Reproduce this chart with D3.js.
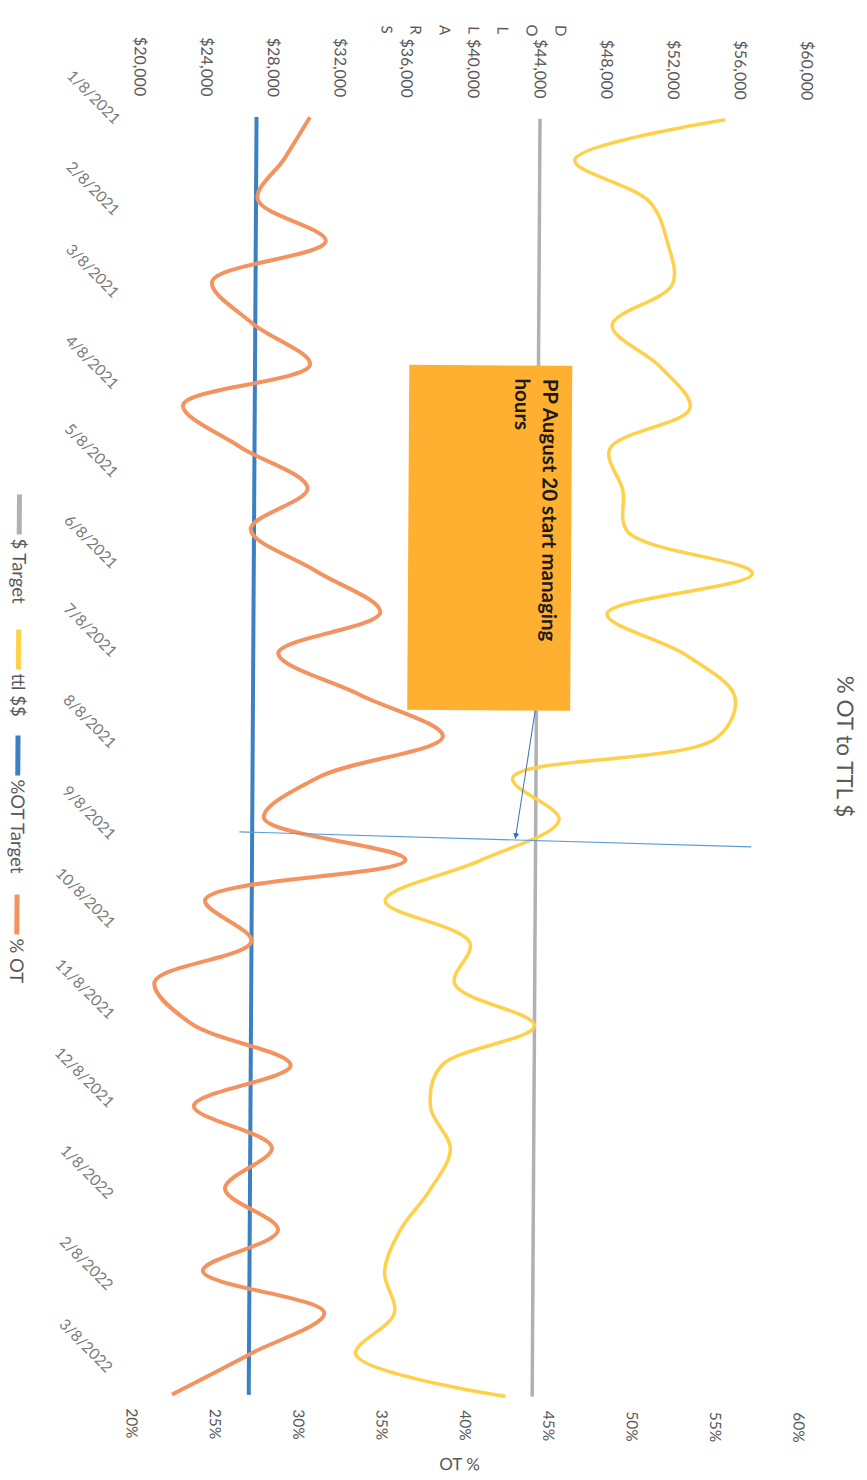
<!DOCTYPE html>
<html><head><meta charset="utf-8">
<script src="https://cdn.jsdelivr.net/npm/d3@7"></script>
<style>body{margin:0;background:#fff}svg{display:block}</style>
</head><body>
<svg id="c" width="867" height="1480"></svg>
<script>
// ---- data ----
const payDates = ["2021-01-08","2021-01-22","2021-02-05","2021-02-19","2021-03-05","2021-03-19","2021-04-02","2021-04-16",
  "2021-04-30","2021-05-14","2021-05-28","2021-06-11","2021-06-25","2021-07-09","2021-07-23","2021-08-06",
  "2021-08-20","2021-09-03","2021-09-17","2021-10-01","2021-10-15","2021-10-29","2021-11-12","2021-11-26",
  "2021-12-10","2021-12-24","2022-01-07","2022-01-21","2022-02-04","2022-02-18","2022-03-04","2022-03-18"];
const ttlDollars = [55100,46100,50600,51700,52000,48400,51300,53100,48300,49100,49400,56900,48200,53000,55900,54800,
  42600,45400,40700,35000,40100,39200,44000,38400,37800,39000,37800,36000,35100,35700,33400,42400];
const otPercent = [30.2,28.7,27.1,31.2,24.4,26.8,30.3,22.7,26.1,30.2,26.8,30.7,34.6,28.5,33.4,38.4,
  31.0,27.7,36.2,24.2,27.0,21.2,23.4,29.4,23.6,28.3,25.5,28.7,24.2,31.5,27.1,22.4];
const dollarTarget = 44000;
const otTarget = 27;
const dollarTicks = [20000,24000,28000,32000,36000,40000,44000,48000,52000,56000,60000];
const percentTicks = [20,25,30,35,40,45,50,55,60];
const dateTicks = ["2021-01-08","2021-02-08","2021-03-08","2021-04-08","2021-05-08","2021-06-08","2021-07-08",
  "2021-08-08","2021-09-08","2021-10-08","2021-11-08","2021-12-08","2022-01-08","2022-02-08","2022-03-08"];
const legendNames = ["$ Target","ttl $$","%OT Target","% OT"];
const titleText = "% OT to TTL $";
const leftTitle = "DOLLARS";
const rightTitle = "OT %";
const noteText = ["PP August 20 start managing","hours"];

// ---- colours ----
const C = {gray:"#b1b1b1", yellow:"#ffd04a", blue:"#3b80c2", orange:"#f3935f", text:"#595959", box:"#ffb030"};

const parse = d3.timeParse("%Y-%m-%d");
const fmtDate = d3.timeFormat("%-m/%-d/%Y");
const svg = d3.select("#c");
const skew = svg.append("g").attr("transform","rotate(0.35,433,740)");
// landscape chart, turned 90 deg clockwise
const g = skew.append("g").attr("transform","translate(867,0) rotate(90)");

const x = d3.scaleTime().domain([parse(payDates[0]), parse(payDates[payDates.length-1])]).range([118,1396]);
const yD = d3.scaleLinear().domain([20000,60000]).range([731,64]);
const yP = d3.scaleLinear().domain([20,60]).range([731,64]);

const font = "Lato, 'Open Sans', sans-serif";

// title
g.append("text").attr("x",744).attr("y",30).attr("text-anchor","middle")
  .attr("font-family",font).attr("font-size",22.5).attr("fill",C.text).text(titleText);

// left axis labels
g.selectAll(".ld").data(dollarTicks).join("text")
  .attr("x",98).attr("y",d=>yD(d)).attr("dy","0.35em").attr("text-anchor","end")
  .attr("font-family",font).attr("font-size",16).attr("fill",C.text)
  .text(d=>d3.format("$,")(d));
// stacked left title
g.selectAll(".lt").data(leftTitle.split("")).join("text")
  .attr("x",30).attr("y",(d,i)=>yD(40000)+ (i-3)*29).attr("dy","0.35em").attr("text-anchor","middle")
  .attr("font-family",font).attr("font-size",15).attr("fill",C.text).text(d=>d);

// right axis labels
g.selectAll(".rp").data(percentTicks).join("text")
  .attr("x",1410).attr("y",d=>yP(d)).attr("dy","0.35em").attr("text-anchor","start")
  .attr("font-family",font).attr("font-size",15.5).attr("fill",C.text).text(d=>d+"%");

// date labels
g.selectAll(".dt").data(dateTicks).join("text")
  .attr("transform",d=>`translate(${x(parse(d))+9},757) rotate(-45)`)
  .attr("text-anchor","end").attr("font-family",font).attr("font-size",15.5).attr("fill","#7a7a7a")
  .text(d=>fmtDate(parse(d)));

// target lines
const dFirst = parse(payDates[0]), dLast = parse(payDates[payDates.length-1]);
g.append("line").attr("x1",x(dFirst)).attr("x2",x(dLast)).attr("y1",yD(dollarTarget)).attr("y2",yD(dollarTarget))
  .attr("stroke",C.gray).attr("stroke-width",3.5);

const smooth = d3.curveCatmullRom.alpha(0.5);
const lineD = d3.line().x((d,i)=>x(parse(payDates[i]))).y(d=>yD(d)).curve(smooth);
const lineP = d3.line().x((d,i)=>x(parse(payDates[i]))).y(d=>yP(d)).curve(smooth);

g.append("path").attr("d",lineD(ttlDollars)).attr("fill","none").attr("stroke",C.yellow).attr("stroke-width",3.5);
g.append("line").attr("x1",x(dFirst)).attr("x2",x(dLast)).attr("y1",yP(otTarget)).attr("y2",yP(otTarget))
  .attr("stroke",C.blue).attr("stroke-width",4);
g.append("path").attr("d",lineP(otPercent)).attr("fill","none").attr("stroke",C.orange).attr("stroke-width",4);

// legend
const legU = [497,632,738,897];
const legColors = [C.gray,C.yellow,C.blue,C.orange];
legendNames.forEach((n,i)=>{
  g.append("line").attr("x1",legU[i]).attr("x2",legU[i]+40).attr("y1",849).attr("y2",849)
    .attr("stroke",legColors[i]).attr("stroke-width",5);
  g.append("text").attr("x",legU[i]+44).attr("y",849).attr("dy","0.35em")
    .attr("font-family",font).attr("font-size",18.5).attr("fill",C.text).text(n);
});

// annotation box
g.append("rect").attr("x",365).attr("y",297).attr("width",345).attr("height",163).attr("fill",C.box);
noteText.forEach((t,i)=>{
  g.append("text").attr("x",378).attr("y",326+i*28).attr("font-family",font).attr("font-weight","bold")
    .attr("font-size",20.5).attr("fill","#1a1a1a").text(t);
});
// arrow + marker line
const defs = svg.append("defs");
defs.append("marker").attr("id","ah").attr("viewBox","0 0 10 10").attr("refX",9).attr("refY",5)
  .attr("markerWidth",6).attr("markerHeight",6).attr("orient","auto")
  .append("path").attr("d","M0,0L10,5L0,10z").attr("fill","#3b6fb6");
g.append("line").attr("x1",710).attr("y1",332).attr("x2",838).attr("y2",351)
  .attr("stroke","#3b6fb6").attr("stroke-width",1).attr("marker-end","url(#ah)");
g.append("line").attr("x1",833).attr("y1",627).attr("x2",845).attr("y2",115)
  .attr("stroke","#5b9bd5").attr("stroke-width",1.2);

// right axis title (horizontal on page)
skew.append("text").attr("x",464).attr("y",1470).attr("text-anchor","middle")
  .attr("font-family",font).attr("font-size",17).attr("fill",C.text).text(rightTitle);
</script>
</body></html>
